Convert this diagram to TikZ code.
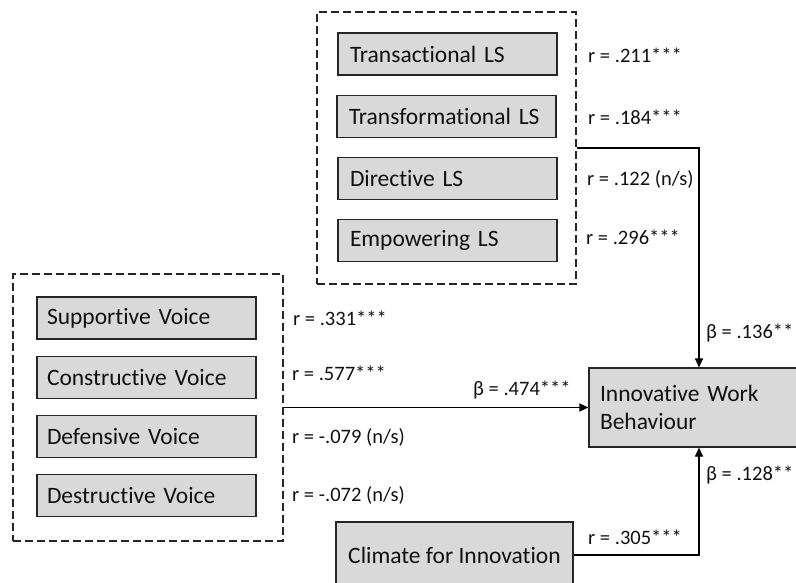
\documentclass[tikz,border=0pt]{standalone}
\usepackage{fontspec}
\setmainfont{Carlito}[Ligatures=NoCommon]
\usetikzlibrary{arrows.meta}
\definecolor{boxfill}{HTML}{D9D9D9}
\definecolor{edgecol}{HTML}{262626}
\definecolor{txt}{HTML}{111111}
\begin{document}
\begin{tikzpicture}[x=1pt,y=-1pt,
  varbox/.style={draw=edgecol,line width=1.2pt,fill=boxfill,minimum width=219pt,minimum height=42pt,
    inner xsep=12pt,inner ysep=0pt,text width=195pt,align=left,text=txt,
    font=\fontsize{23.5}{28}\selectfont},
  groupbox/.style={draw=edgecol,line width=1.2pt,dash pattern=on 8pt off 4pt,inner sep=0pt},
  lab/.style={anchor=west,inner sep=0pt,text=txt,font=\fontsize{20.5}{24}\selectfont},
  conn/.style={draw=black,line width=1.2pt},
  arr/.style={conn,-{Triangle[length=9pt,width=8pt]}}]
\useasboundingbox (0,0) rectangle (796,583);
\clip (0,0) rectangle (796,583);
\fill[white] (0,0) rectangle (796,583);

% top group
\node[groupbox,minimum width=259pt,minimum height=272pt] (tdash) at (446.5,148) {};
\node[varbox] (trans) at (447.5,54) {Transactional LS};
\node[varbox] (transf) at (446.5,116.5) {Transformational LS};
\node[varbox] (direct) at (447.5,178.5) {Directive LS};
\node[varbox] (empow) at (447.5,240.5) {Empowering LS};
\node[lab] (r1) at (588,55) {r = .211***};
\node[lab] (r2) at (588,117) {r = .184***};
\node[lab] (r3) at (587,179) {r = .122 (n/s)};
\node[lab] (r4) at (586,237) {r = .296***};

% left group
\node[groupbox,minimum width=270pt,minimum height=267pt] (ldash) at (148,407.5) {};
\node[varbox,inner xsep=10pt,text width=199pt] (supp) at (146.5,318) {Supportive Voice};
\node[varbox,inner xsep=10pt,text width=199pt] (cons) at (146.5,377.5) {Constructive Voice};
\node[varbox,inner xsep=10pt,text width=199pt] (defe) at (146.5,436.5) {Defensive Voice};
\node[varbox,inner xsep=10pt,text width=199pt] (dest) at (146.5,495.5) {Destructive Voice};
\node[lab] (v1) at (293,318) {r = .331***};
\node[lab] (v2) at (292,373) {r = .577***};
\node[lab] (v3) at (292,437) {r = -.079 (n/s)};
\node[lab] (v4) at (292,495) {r = -.072 (n/s)};

% outcome
\node[varbox,minimum width=220pt,minimum height=79pt,inner xsep=11pt,text width=198pt] (iwb) at (699,407.5) {Innovative Work\\Behaviour};

% climate
\node[varbox,minimum width=237pt,minimum height=66pt,inner xsep=4pt,text width=] (clim) at (454.5,555) {Climate for Innovation};
\node[lab] (c1) at (588,537) {r = .305***};

% connectors
\draw[arr] (tdash.east) -| (iwb.north);
\draw[arr] (ldash.east) -- (iwb.west);
\draw[arr] (clim.east) -| (iwb.south);

\node[lab] (b1) at (473,390) {β = .474***};
\node[lab] (b2) at (706,333) {β = .136**};
\node[lab] (b3) at (706,475) {β = .128**};
\end{tikzpicture}
\end{document}
